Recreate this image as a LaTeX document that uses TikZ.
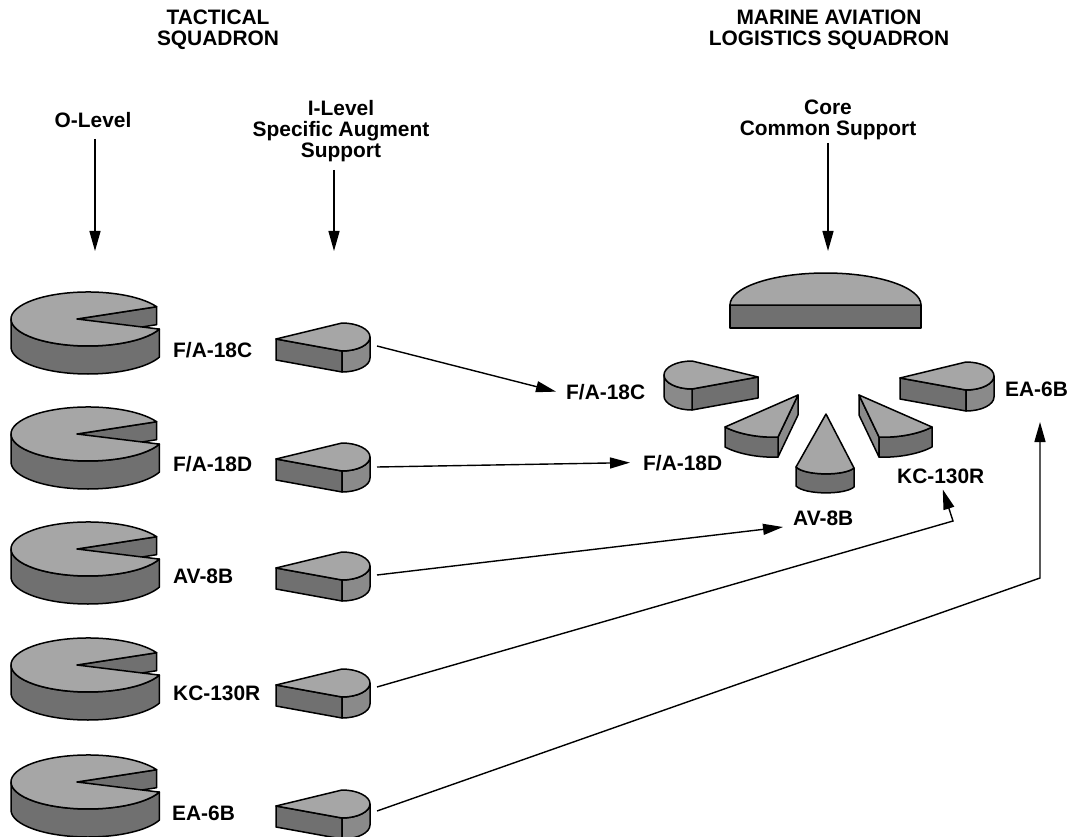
\documentclass[tikz,border=0pt]{standalone}
\usepackage{fontspec}
\setmainfont{Liberation Sans}
\usetikzlibrary{arrows.meta}

\definecolor{pietop}{RGB}{166,166,166}
\definecolor{piedark}{RGB}{112,112,112}
\definecolor{piemid}{RGB}{138,138,138}

\tikzset{
  face/.style={draw=black, line width=1.5pt, line join=round},
  lab/.style={font=\fontsize{20.9}{21}\selectfont\bfseries, inner sep=0pt},
  arr/.style={line width=1.4pt, -{Triangle[length=20pt,width=11pt]}},
}

% O-level pie with a wedge cut out, apex at (#1,#2)
\newcommand{\bigpie}[2]{%
  \begin{scope}[shift={(#1,#2)}]
    \filldraw[face, fill=piedark] (0,0) -- (79.6,-12.3) -- ++(0,18) -- (0,18) -- cycle;
    \filldraw[face, fill=piedark] (-66,0) -- (-66,28) arc[start angle=180, end angle=22, x radius=77, y radius=27]
      -- (82.4,10.1) arc[start angle=22, end angle=180, x radius=77, y radius=27] -- cycle;
    \filldraw[face, fill=pietop] (0,0) -- (82.4,10.1) arc[start angle=22, end angle=333, x radius=77, y radius=27] -- cycle;
  \end{scope}}

% flat slice, apex at (#1,#2), #3 = 1 or -1 (mirror)
\newcommand{\slicepiece}[3]{%
  \begin{scope}[shift={(#1,#2)}, xscale=#3]
    \filldraw[face, fill=piedark] (0,0) -- (66,12) -- (66,33) -- (0,21) -- cycle;
    \filldraw[face, fill=piemid] (94,-2) arc[start angle=0, end angle=90, x radius=28, y radius=14]
      -- (66,33) arc[start angle=90, end angle=0, x radius=28, y radius=14] -- cycle;
    \filldraw[face, fill=pietop] (0,0) -- (66,-16) arc[start angle=-90, end angle=90, x radius=28, y radius=14] -- cycle;
  \end{scope}}

% slanted slice of the core fan, #1 = 1 or -1 (mirror)
\newcommand{\fanpiece}[1]{%
  \begin{scope}[shift={(828.5,0)}, xscale=#1]
    \filldraw[face, fill=piemid] (-50.5,437) -- (-30.5,395) -- (-30.5,415) -- (-50.5,457) -- cycle;
    \filldraw[face, fill=piedark] (-103.5,427) -- (-103.5,447) .. controls (-90.5,454) and (-68.5,458) .. (-50.5,457)
      -- (-50.5,437) .. controls (-68.5,438) and (-90.5,434) .. (-103.5,427) -- cycle;
    \filldraw[face, fill=pietop] (-30.5,395) -- (-103.5,427) .. controls (-90.5,434) and (-68.5,438) .. (-50.5,437) -- cycle;
  \end{scope}}

\begin{document}
\begin{tikzpicture}[x=1pt,y=-1pt]
  \useasboundingbox (0,0) rectangle (1068,837);

  % headings
  \node[lab, align=center, anchor=north] (tac) at (218,10) {TACTICAL\\SQUADRON};
  \node[lab, align=center, anchor=north] (mals) at (829,10) {MARINE AVIATION\\LOGISTICS SQUADRON};
  \node[lab, anchor=north] (lO) at (93,112) {O-Level};
  \node[lab, align=center, anchor=north] (lI) at (341,100) {I-Level\\Specific Augment\\Support};
  \node[lab, align=center, anchor=north] (lCore) at (828,100) {Core\\Common Support};

  \coordinate (oTop) at (95,139);    \coordinate (oPie) at (95,251);
  \coordinate (iTop) at (334,170);   \coordinate (iPie) at (334,251);
  \coordinate (cTop) at (828,143);   \coordinate (cPie) at (828,251);
  \draw[arr] (oTop) -- (oPie);
  \draw[arr] (iTop) -- (iPie);
  \draw[arr] (cTop) -- (cPie);

  % tactical squadron
  \foreach \y in {319,434,549,665,782}
    \bigpie{77}{\y};
  \foreach \y/\o/\n in {339/346/1, 459/467/2, 568/575/3, 685/687/4, 806/811/5}{
    \slicepiece{276}{\y}{1}
    \coordinate (t\n out) at (377,\o);
  }
  \node[lab, anchor=base west] (t1) at (173,357) {F/A-18C};
  \node[lab, anchor=base west] (t2) at (173,471) {F/A-18D};
  \node[lab, anchor=base west] (t3) at (173,583) {AV-8B};
  \node[lab, anchor=base west] (t4) at (173,700) {KC-130R};
  \node[lab, anchor=base west] (t5) at (172,820) {EA-6B};

  % core common support
  \filldraw[face, fill=piedark] (730,305) rectangle (921,328);
  \filldraw[face, fill=pietop] (730,305) arc[start angle=180, end angle=360, x radius=95.5, y radius=32] -- cycle;

  \slicepiece{758}{377}{-1}
  \slicepiece{900}{378}{1}
  \fanpiece{1}
  \fanpiece{-1}
  \filldraw[face, fill=piedark] (796,467) -- (796,486) .. controls (805,495) and (845,495) .. (854,487)
    -- (854,468) .. controls (845,476) and (805,476) .. (796,467) -- cycle;
  \filldraw[face, fill=pietop] (826,414) -- (796,467) .. controls (805,476) and (845,476) .. (854,468) -- cycle;

  \node[lab, anchor=base west] (m1) at (566,399) {F/A-18C};
  \node[lab, anchor=base west] (m2) at (643,470) {F/A-18D};
  \node[lab, anchor=base west] (m3) at (793,525) {AV-8B};
  \node[lab, anchor=base west] (m4) at (897,483) {KC-130R};
  \node[lab, anchor=base west] (m5) at (1005,396) {EA-6B};

  \coordinate (kcBend) at (953,521);
  \coordinate (eaBend) at (1040,578);
  \coordinate (eaTip) at (1040,422);

  \draw[arr] (t1out) -- ([xshift=-10pt]m1.west);
  \draw[arr] (t2out) -- ([xshift=-13pt]m2.west);
  \draw[arr] (t3out) -- ([xshift=-10pt,yshift=-2pt]m3.base west);
  \draw[arr] (t4out) -- (kcBend) -- ([xshift=2pt,yshift=-6pt]m4.south);
  \draw[arr] (t5out) -- (eaBend) -- (eaTip);

\end{tikzpicture}
\end{document}
